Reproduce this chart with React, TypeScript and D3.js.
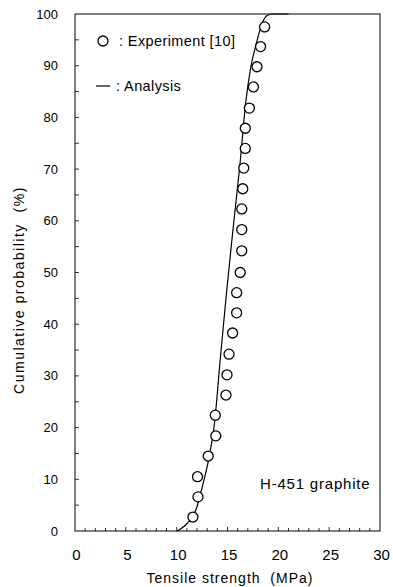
import React from 'react';
import * as d3 from 'd3';

// experiment [10]: tensile strength (MPa) vs cumulative probability (%)
const expStrength = [11.6, 12.1, 12.05, 13.1, 13.85, 13.8, 14.85, 14.95, 15.15, 15.5, 15.9, 15.9, 16.25, 16.4, 16.4, 16.4, 16.5, 16.6, 16.75, 16.75, 17.15, 17.55, 17.9, 18.25, 18.65];
const expProb = [2.7, 6.6, 10.5, 14.5, 18.4, 22.4, 26.3, 30.2, 34.2, 38.3, 42.2, 46.1, 50.0, 54.2, 58.3, 62.3, 66.2, 70.2, 74.0, 77.9, 81.8, 85.9, 89.8, 93.7, 97.5];

// analysis curve
const anaStrength = [10.0, 10.3, 11.0, 11.9, 12.5, 13.2, 13.7, 14.3, 14.9, 15.5, 16.2, 16.8, 17.3, 17.8, 18.1, 18.5, 18.9, 19.5, 21.0];
const anaProb = [0, 0.3, 1.4, 4.1, 8.4, 14.4, 20.5, 33.5, 46, 57.6, 70.4, 83, 89.8, 94, 96.3, 98.6, 99.7, 100, 100];

const xTicks = [0, 5, 10, 15, 20, 25, 30];
const yTicks = [0, 10, 20, 30, 40, 50, 60, 70, 80, 90, 100];

const W = 393;
const H = 587;
const font = '"Liberation Sans", Arial, sans-serif';

export default function App() {
  const x = d3.scaleLinear().domain([0, 30]).range([75, 380]);
  const y = d3.scaleLinear().domain([0, 100]).range([531, 14]);

  const line = d3
    .line<number>()
    .x(i => x(anaStrength[i]))
    .y(i => y(anaProb[i]))
    .curve(d3.curveMonotoneX);

  const minorX = d3.range(1, 30);
  const minorY = d3.range(5, 100, 5);

  return (
    <svg width={W} height={H} style={{ position: 'absolute', left: 0, top: 0, background: '#fff', whiteSpace: 'pre' }} fontFamily={font}>
      <rect x={0} y={0} width={W} height={H} fill="#fff" />

      {/* frame */}
      <rect x={x(0)} y={y(100)} width={x(30) - x(0)} height={y(0) - y(100)} fill="none" stroke="#000" strokeWidth={1} />

      {/* ticks, pointing inward */}
      {minorX.map(v => (
        <line key={'xt' + v} x1={x(v)} x2={x(v)} y1={y(0)} y2={y(0) - (v % 5 === 0 ? 4 : 3)} stroke="#000" strokeWidth={0.8} />
      ))}
      {minorY.map(v => (
        <line key={'yt' + v} x1={x(0)} x2={x(0) + 4} y1={y(v)} y2={y(v)} stroke="#000" strokeWidth={0.8} />
      ))}

      {xTicks.map(v => (
        <text key={'xl' + v} x={x(v) + 1.5} y={560} textAnchor="middle" fontSize={15} fill="#000">
          {v}
        </text>
      ))}
      {yTicks.map(v => (
        <text key={'yl' + v} x={58} y={y(v)} dy="0.35em" textAnchor="end" fontSize={13} fill="#000">
          {v}
        </text>
      ))}

      <text x={230} y={583} textAnchor="middle" fontSize={14} letterSpacing={1} fill="#000" xmlSpace="preserve">
        {'Tensile strength  (MPa)'}
      </text>
      <text
        transform={`translate(24,${290}) rotate(-90)`}
        textAnchor="middle"
        fontSize={14}
        letterSpacing={1.5}
        fill="#000"
        xmlSpace="preserve"
      >
        {'Cumulative probability  (%)'}
      </text>

      {/* analysis */}
      <path d={line(d3.range(anaStrength.length)) ?? ''} fill="none" stroke="#000" strokeWidth={1.2} />

      {/* experiment */}
      {expStrength.map((v, i) => (
        <circle key={'c' + i} cx={x(v)} cy={y(expProb[i])} r={5} fill="#fff" stroke="#000" strokeWidth={1.3} />
      ))}

      {/* legend */}
      <circle cx={103} cy={41} r={5} fill="#fff" stroke="#000" strokeWidth={1.3} />
      <text x={119} y={46} fontSize={14.5} letterSpacing={0.4} fill="#000">
        : Experiment [10]
      </text>
      <line x1={96} x2={110} y1={86} y2={86} stroke="#000" strokeWidth={1.2} />
      <text x={116} y={91} fontSize={14.5} letterSpacing={0.4} fill="#000">
        : Analysis
      </text>

      <text x={260} y={489} fontSize={15} letterSpacing={0.8} fill="#000">
        H-451 graphite
      </text>
    </svg>
  );
}
